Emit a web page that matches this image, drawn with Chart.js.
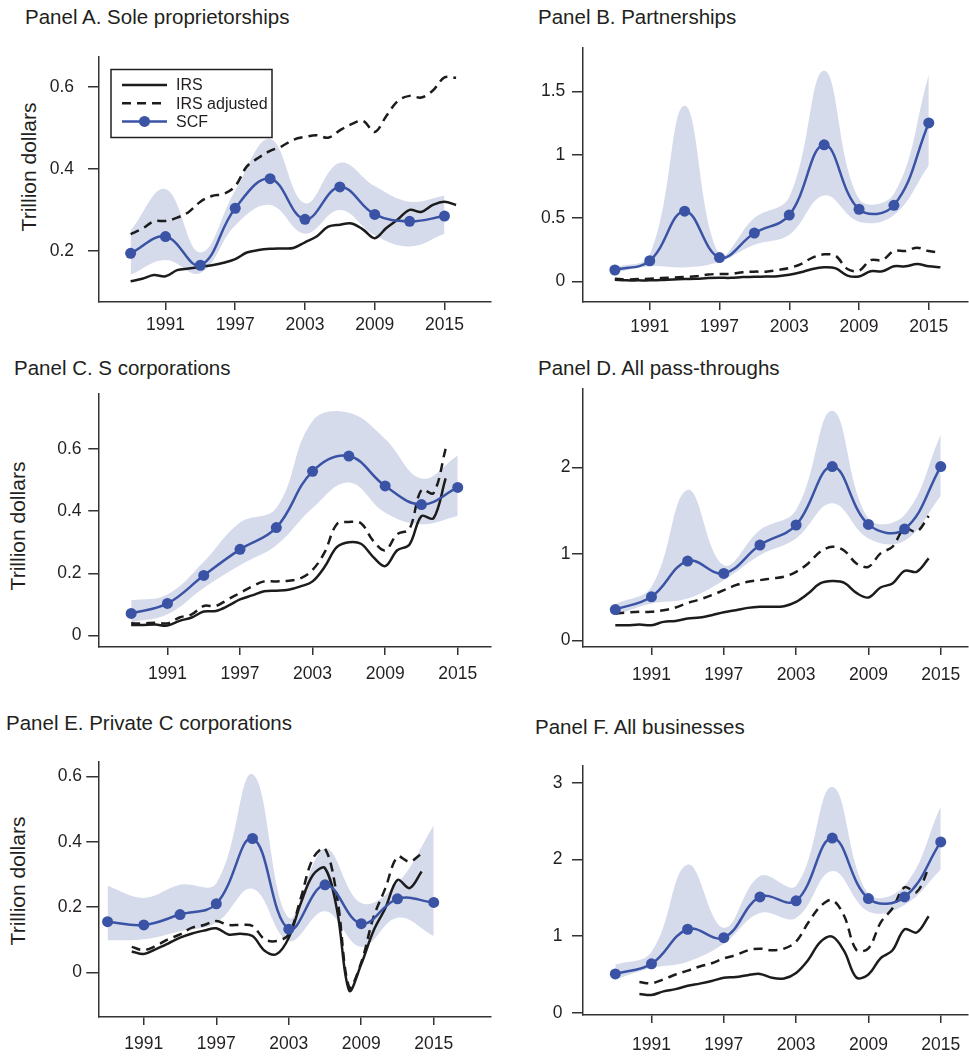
<!DOCTYPE html>
<html>
<head>
<meta charset="utf-8">
<script src="https://cdn.jsdelivr.net/npm/chart.js@4.4.1/dist/chart.umd.min.js"></script>
<style>
  body { margin: 0; background: #fff; width: 969px; height: 1056px; position: relative; overflow: hidden;
         font-family: "Liberation Sans", Arial, Helvetica, sans-serif; color: #231f20; }
  canvas { position: absolute; }
  .ttl { position: absolute; font-size: 20.5px; line-height: 20.5px; white-space: nowrap; }
  .ylab { position: absolute; font-size: 21px; line-height: 21px; white-space: nowrap;
          transform: translate(-50%, -50%) rotate(-90deg); }
</style>
</head>
<body>
<div class="ttl" style="left:25px;top:6.6px">Panel A. Sole proprietorships</div>
<div class="ttl" style="left:538px;top:6.6px">Panel B. Partnerships</div>
<div class="ttl" style="left:14px;top:357.6px">Panel C. S corporations</div>
<div class="ttl" style="left:538px;top:357.6px">Panel D. All pass-throughs</div>
<div class="ttl" style="left:6px;top:713.3px">Panel E. Private C corporations</div>
<div class="ttl" style="left:535px;top:716.6px">Panel F. All businesses</div>
<div class="ylab" style="left:28.3px;top:166.7px">Trillion dollars</div>
<div class="ylab" style="left:16.7px;top:525.8px">Trillion dollars</div>
<div class="ylab" style="left:16.7px;top:880.8px">Trillion dollars</div>

<canvas id="pA"></canvas>
<canvas id="pB"></canvas>
<canvas id="pC"></canvas>
<canvas id="pD"></canvas>
<canvas id="pE"></canvas>
<canvas id="pF"></canvas>

<script>
// 年份
const scfYears = [1988, 1991, 1994, 1997, 2000, 2003, 2006, 2009, 2012, 2015];
const irsYears8816 = [1988, 1989, 1990, 1991, 1992, 1993, 1994, 1995, 1996, 1997, 1998, 1999, 2000, 2001, 2002,
    2003, 2004, 2005, 2006, 2007, 2008, 2009, 2010, 2011, 2012, 2013, 2014, 2015, 2016];
const irsYears8814 = [1988, 1989, 1990, 1991, 1992, 1993, 1994, 1995, 1996, 1997, 1998, 1999, 2000, 2001, 2002,
    2003, 2004, 2005, 2006, 2007, 2008, 2009, 2010, 2011, 2012, 2013, 2014];
const irsYears9014 = [1990, 1991, 1992, 1993, 1994, 1995, 1996, 1997, 1998, 1999, 2000, 2001, 2002,
    2003, 2004, 2005, 2006, 2007, 2008, 2009, 2010, 2011, 2012, 2013, 2014];
const xTicks = [1991, 1997, 2003, 2009, 2015];
const legendLabels = ['IRS', 'IRS adjusted', 'SCF'];

// Panel A. Sole proprietorships
const soleIrs = [0.126, 0.132, 0.141, 0.138, 0.153, 0.157, 0.161, 0.165, 0.171, 0.180, 0.196, 0.202, 0.205, 0.206, 0.207,
    0.221, 0.235, 0.259, 0.264, 0.267, 0.252, 0.231, 0.256, 0.277, 0.300, 0.295, 0.312, 0.320, 0.312];
const soleIrsAdj = [0.241, 0.254, 0.272, 0.273, 0.281, 0.295, 0.320, 0.334, 0.339, 0.358, 0.406, 0.427, 0.444, 0.455, 0.471,
    0.478, 0.482, 0.476, 0.494, 0.509, 0.517, 0.490, 0.529, 0.566, 0.578, 0.574, 0.591, 0.623, 0.622];
const soleScf = [0.194, 0.235, 0.165, 0.304, 0.376, 0.277, 0.356, 0.289, 0.272, 0.285];
const soleHi = [0.250, 0.351, 0.196, 0.347, 0.473, 0.316, 0.415, 0.358, 0.320, 0.335];
const soleLo = [0.142, 0.178, 0.146, 0.262, 0.312, 0.242, 0.300, 0.238, 0.211, 0.242];
const soleYTicks = [0.2, 0.4, 0.6];

// Panel B. Partnerships
const partIrs = [0.013, 0.008, 0.008, 0.008, 0.010, 0.015, 0.018, 0.020, 0.026, 0.028, 0.028, 0.034, 0.036, 0.039, 0.041,
    0.052, 0.072, 0.098, 0.111, 0.103, 0.046, 0.039, 0.080, 0.080, 0.119, 0.119, 0.137, 0.119, 0.111];
const partIrsAdj = [0.021, 0.015, 0.018, 0.021, 0.026, 0.031, 0.034, 0.041, 0.054, 0.059, 0.059, 0.072, 0.077, 0.077, 0.090,
    0.106, 0.137, 0.188, 0.214, 0.201, 0.098, 0.085, 0.168, 0.168, 0.240, 0.240, 0.266, 0.240, 0.227];
const partScf = [0.090, 0.163, 0.555, 0.188, 0.382, 0.524, 1.079, 0.570, 0.601, 1.252];
const partHi = [0.110, 0.210, 1.389, 0.214, 0.500, 0.666, 1.665, 0.653, 0.690, 1.634];
const partLo = [0.070, 0.120, 0.110, 0.155, 0.290, 0.369, 0.679, 0.472, 0.524, 0.916];
const partYTicks = [0, 0.5, 1, 1.5];

// Panel C. S corporations
const scorpIrs = [0.034, 0.034, 0.035, 0.032, 0.047, 0.058, 0.077, 0.079, 0.095, 0.116, 0.129, 0.142, 0.144, 0.147, 0.158,
    0.174, 0.221, 0.284, 0.300, 0.295, 0.253, 0.223, 0.274, 0.292, 0.384, 0.377, 0.505];
const scorpIrsAdj = [0.039, 0.039, 0.041, 0.039, 0.058, 0.068, 0.095, 0.095, 0.116, 0.137, 0.158, 0.174, 0.174, 0.176, 0.184,
    0.211, 0.268, 0.358, 0.365, 0.361, 0.305, 0.274, 0.326, 0.342, 0.468, 0.458, 0.600];
const scorpScf = [0.071, 0.103, 0.193, 0.277, 0.347, 0.528, 0.577, 0.481, 0.421, 0.476];
const scorpHi = [0.113, 0.132, 0.237, 0.363, 0.410, 0.690, 0.716, 0.632, 0.505, 0.579];
const scorpLo = [0.042, 0.068, 0.153, 0.226, 0.290, 0.410, 0.492, 0.395, 0.358, 0.384];
const scorpYTicks = [0, 0.2, 0.4, 0.6];

// Panel D. All pass-throughs
const passIrs = [0.174, 0.174, 0.182, 0.174, 0.213, 0.224, 0.251, 0.263, 0.290, 0.325, 0.348, 0.375, 0.387, 0.387, 0.395,
    0.445, 0.542, 0.658, 0.685, 0.665, 0.549, 0.495, 0.611, 0.658, 0.805, 0.793, 0.948];
const passIrsAdj = [0.309, 0.321, 0.329, 0.329, 0.348, 0.379, 0.433, 0.472, 0.522, 0.580, 0.638, 0.677, 0.696, 0.716, 0.735,
    0.793, 0.890, 1.025, 1.083, 1.037, 0.890, 0.851, 1.006, 1.083, 1.296, 1.257, 1.439];
const passScf = [0.356, 0.503, 0.917, 0.774, 1.103, 1.335, 2.012, 1.342, 1.288, 2.012];
const passHi = [0.418, 0.619, 1.741, 0.870, 1.277, 1.509, 2.658, 1.412, 1.451, 2.379];
const passLo = [0.290, 0.426, 0.484, 0.696, 0.986, 1.180, 1.586, 1.180, 1.153, 1.671];
const passYTicks = [0, 1, 2];

// Panel E. Private C corporations
const ccorpIrs = [0.064, 0.056, 0.071, 0.088, 0.106, 0.119, 0.128, 0.135, 0.116, 0.118, 0.111, 0.066, 0.056,
    0.106, 0.212, 0.298, 0.319, 0.190, -0.056, 0.025, 0.126, 0.197, 0.283, 0.258, 0.309];
const ccorpIrsAdj = [0.078, 0.068, 0.081, 0.101, 0.116, 0.137, 0.145, 0.157, 0.145, 0.145, 0.142, 0.101, 0.096,
    0.116, 0.228, 0.349, 0.379, 0.230, -0.046, 0.030, 0.167, 0.258, 0.354, 0.339, 0.364];
const ccorpScf = [0.155, 0.145, 0.177, 0.210, 0.410, 0.132, 0.268, 0.149, 0.225, 0.214];
const ccorpHi = [0.265, 0.228, 0.268, 0.273, 0.607, 0.167, 0.379, 0.212, 0.273, 0.450];
const ccorpLo = [0.098, 0.101, 0.126, 0.152, 0.256, 0.096, 0.187, 0.078, 0.167, 0.111];
const ccorpYTicks = [0, 0.2, 0.4, 0.6];

// Panel F. All businesses
const allIrs = [0.245, 0.232, 0.279, 0.308, 0.351, 0.380, 0.414, 0.456, 0.465, 0.490, 0.507, 0.456, 0.448,
    0.520, 0.689, 0.921, 0.993, 0.800, 0.460, 0.500, 0.710, 0.815, 1.090, 1.048, 1.259];
const allIrsAdj = [0.401, 0.384, 0.435, 0.499, 0.549, 0.604, 0.646, 0.710, 0.752, 0.815, 0.837, 0.815, 0.837,
    0.929, 1.174, 1.386, 1.470, 1.259, 0.820, 0.840, 1.174, 1.365, 1.639, 1.576, 1.893];
const allScf = [0.507, 0.638, 1.090, 0.980, 1.512, 1.462, 2.281, 1.491, 1.512, 2.231];
const allHi = [0.625, 0.794, 1.935, 1.111, 1.787, 1.660, 2.949, 1.555, 1.660, 2.695];
const allLo = [0.435, 0.583, 0.667, 0.900, 1.301, 1.238, 1.850, 1.322, 1.407, 1.872];
const allYTicks = [0, 1, 2, 3];

// 顏色與字體
const ink = '#231f20';
const lineBlack = '#1c1c1c';
const scfBlue = '#3a53a4';
const bandFill = '#d6dbec';
const fontFamily = '"Liberation Sans", Arial, Helvetica, sans-serif';

const AXIS_W = 80, AXIS_H = 50, PAD_T = 12, PAD_R = 4;

function pts(xs, ys) {
    return xs.map((x, i) => ({ x: x, y: ys[i] }));
}

// 圖例 (只在 Panel A)
const legendPlugin = {
    id: 'boxLegend',
    afterDatasetsDraw(chart) {
        const ca = chart.chartArea;
        const ctx = chart.ctx;
        const x0 = ca.left + 12, y0 = ca.top + 13;
        ctx.save();
        ctx.fillStyle = '#fff';
        ctx.fillRect(x0, y0, 161, 68);
        ctx.lineWidth = 1.5;
        ctx.strokeStyle = ink;
        ctx.strokeRect(x0, y0, 161, 68);
        legendLabels.forEach((label, i) => {
            const y = y0 + 15.5 + i * 18.2;
            ctx.beginPath();
            ctx.lineWidth = 2.5;
            ctx.strokeStyle = i === 2 ? scfBlue : lineBlack;
            ctx.setLineDash(i === 1 ? [9, 6] : []);
            ctx.moveTo(x0 + 11, y);
            ctx.lineTo(x0 + 56, y);
            ctx.stroke();
            ctx.setLineDash([]);
            if (i === 2) {
                ctx.beginPath();
                ctx.fillStyle = scfBlue;
                ctx.arc(x0 + 33.5, y, 5.5, 0, Math.PI * 2);
                ctx.fill();
            }
            ctx.fillStyle = ink;
            ctx.font = '16px ' + fontFamily;
            ctx.textBaseline = 'middle';
            ctx.textAlign = 'left';
            ctx.fillText(label, x0 + 65, y + 1);
        });
        ctx.restore();
    }
};

function makePanel(p) {
    const canvas = document.getElementById(p.id);
    const left = p.plot[0] - AXIS_W;
    const top = p.plot[1] - PAD_T;
    const w = p.plot[2] + PAD_R - left;
    const h = p.plot[3] + AXIS_H - top;
    canvas.width = w;
    canvas.height = h;
    canvas.style.left = left + 'px';
    canvas.style.top = top + 'px';
    canvas.style.width = w + 'px';
    canvas.style.height = h + 'px';

    const tickFont = { family: fontFamily, size: 17.5 };
    new Chart(canvas.getContext('2d'), {
        type: 'line',
        data: {
            datasets: [{
                label: 'SCF',
                data: pts(scfYears, p.scf),
                borderColor: scfBlue,
                backgroundColor: scfBlue,
                borderWidth: 2.5,
                pointRadius: 5.5,
                pointBorderWidth: 0,
                pointBackgroundColor: scfBlue,
                tension: 0.4,
                fill: false
            }, {
                label: 'IRS',
                data: pts(p.irsYears, p.irs),
                borderColor: lineBlack,
                borderWidth: 2.5,
                pointRadius: 0,
                tension: 0.35,
                fill: false
            }, {
                label: 'IRS adjusted',
                data: pts(p.irsYears, p.irsAdj),
                borderColor: lineBlack,
                borderWidth: 2.5,
                borderDash: [9, 6],
                pointRadius: 0,
                tension: 0.35,
                fill: false
            }, {
                label: 'hi',
                data: pts(scfYears, p.hi),
                borderWidth: 0,
                borderColor: 'rgba(0,0,0,0)',
                backgroundColor: bandFill,
                pointRadius: 0,
                tension: 0.4,
                fill: '+1'
            }, {
                label: 'lo',
                data: pts(scfYears, p.lo),
                borderWidth: 0,
                borderColor: 'rgba(0,0,0,0)',
                pointRadius: 0,
                tension: 0.4,
                fill: false
            }]
        },
        options: {
            responsive: false,
            animation: false,
            devicePixelRatio: 1,
            layout: { padding: { top: PAD_T, right: PAD_R, left: 0, bottom: 0 } },
            plugins: { legend: { display: false }, tooltip: { enabled: false }, title: { display: false } },
            scales: {
                x: {
                    type: 'linear',
                    min: p.xRange[0],
                    max: p.xRange[1],
                    afterBuildTicks: axis => { axis.ticks = xTicks.map(v => ({ value: v })); },
                    afterFit: scale => { scale.height = AXIS_H; },
                    grid: { drawOnChartArea: false, drawTicks: true, tickLength: 8, color: '#333', lineWidth: 1.5 },
                    border: { display: true, color: '#333', width: 1.5 },
                    ticks: {
                        autoSkip: false, maxRotation: 0, padding: p.xPad,
                        color: ink, font: tickFont,
                        callback: v => String(v)
                    }
                },
                y: {
                    type: 'linear',
                    min: p.yRange[0],
                    max: p.yRange[1],
                    afterBuildTicks: axis => { axis.ticks = p.yTicks.map(v => ({ value: v })); },
                    afterFit: scale => { scale.width = AXIS_W; },
                    grid: { drawOnChartArea: false, drawTicks: true, tickLength: p.yTick, color: '#333', lineWidth: 1.5 },
                    border: { display: true, color: '#333', width: 1.5 },
                    ticks: {
                        autoSkip: false, padding: p.yPad,
                        color: ink, font: tickFont,
                        callback: v => String(v)
                    }
                }
            }
        },
        plugins: p.legend ? [legendPlugin] : []
    });
}

makePanel({ id: 'pA', plot: [99, 44, 492, 302], xRange: [1985.28, 2018.96], yRange: [0.0754, 0.674],
    yTicks: soleYTicks, yTick: 11, yPad: 14, xPad: 4.5, legend: true,
    irsYears: irsYears8816, irs: soleIrs, irsAdj: soleIrsAdj, scf: soleScf, hi: soleHi, lo: soleLo });
makePanel({ id: 'pB', plot: [583, 43, 969, 302], xRange: [1985.26, 2018.33], yRange: [-0.163, 1.843],
    yTicks: partYTicks, yTick: 11, yPad: 6.7, xPad: 6.5,
    irsYears: irsYears8816, irs: partIrs, irsAdj: partIrsAdj, scf: partScf, hi: partHi, lo: partLo });
makePanel({ id: 'pC', plot: [99, 389, 492, 647], xRange: [1985.34, 2017.71], yRange: [-0.037, 0.776],
    yTicks: scorpYTicks, yTick: 10.7, yPad: 6.7, xPad: 8.5,
    irsYears: irsYears8814, irs: scorpIrs, irsAdj: scorpIrsAdj, scf: scorpScf, hi: scorpHi, lo: scorpLo });
makePanel({ id: 'pD', plot: [583, 389, 969, 647], xRange: [1985.32, 2017.22], yRange: [-0.078, 2.91],
    yTicks: passYTicks, yTick: 11, yPad: 1.5, xPad: 9.5,
    irsYears: irsYears8814, irs: passIrs, irsAdj: passIrsAdj, scf: passScf, hi: passHi, lo: passLo });
makePanel({ id: 'pE', plot: [99, 759, 492, 1017], xRange: [1987.29, 2019.70], yRange: [-0.137, 0.645],
    yTicks: ccorpYTicks, yTick: 12.7, yPad: 4.3, xPad: 8.3,
    irsYears: irsYears9014, irs: ccorpIrs, irsAdj: ccorpIrsAdj, scf: ccorpScf, hi: ccorpHi, lo: ccorpLo });
makePanel({ id: 'pF', plot: [583, 758, 969, 1015], xRange: [1985.32, 2017.22], yRange: [-0.03, 3.224],
    yTicks: allYTicks, yTick: 11, yPad: 9.4, xPad: 11.5,
    irsYears: irsYears9014, irs: allIrs, irsAdj: allIrsAdj, scf: allScf, hi: allHi, lo: allLo });
</script>
</body>
</html>
